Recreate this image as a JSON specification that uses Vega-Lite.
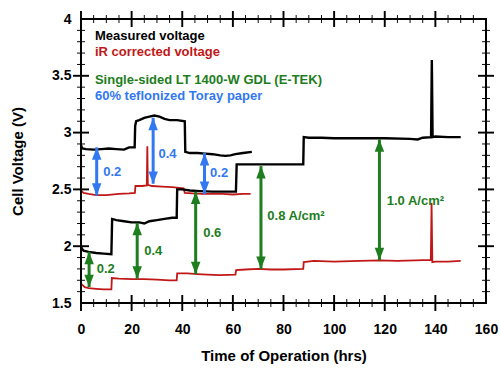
{
  "$schema": "https://vega.github.io/schema/vega-lite/v6.json",
  "width": 405,
  "height": 284,
  "autosize": "none",
  "padding": {"left": 81, "top": 19, "right": 14, "bottom": 65},
  "config": {
    "font": "Liberation Sans",
    "view": {"stroke": null},
    "axis": {"grid": false, "domain": false, "ticks": false, "labelColor": "black", "titleColor": "black"}
  },
  "datasets": {
    "ticks": [
      {"t": 0, "v": 1.5, "side": "bottom", "kind": "major"}, {"t": 5, "v": 1.5, "side": "bottom", "kind": "minor"}, {"t": 10, "v": 1.5, "side": "bottom", "kind": "minor"}, {"t": 15, "v": 1.5, "side": "bottom", "kind": "minor"},
      {"t": 20, "v": 1.5, "side": "bottom", "kind": "major"}, {"t": 25, "v": 1.5, "side": "bottom", "kind": "minor"}, {"t": 30, "v": 1.5, "side": "bottom", "kind": "minor"}, {"t": 35, "v": 1.5, "side": "bottom", "kind": "minor"},
      {"t": 40, "v": 1.5, "side": "bottom", "kind": "major"}, {"t": 45, "v": 1.5, "side": "bottom", "kind": "minor"}, {"t": 50, "v": 1.5, "side": "bottom", "kind": "minor"}, {"t": 55, "v": 1.5, "side": "bottom", "kind": "minor"},
      {"t": 60, "v": 1.5, "side": "bottom", "kind": "major"}, {"t": 65, "v": 1.5, "side": "bottom", "kind": "minor"}, {"t": 70, "v": 1.5, "side": "bottom", "kind": "minor"}, {"t": 75, "v": 1.5, "side": "bottom", "kind": "minor"},
      {"t": 80, "v": 1.5, "side": "bottom", "kind": "major"}, {"t": 85, "v": 1.5, "side": "bottom", "kind": "minor"}, {"t": 90, "v": 1.5, "side": "bottom", "kind": "minor"}, {"t": 95, "v": 1.5, "side": "bottom", "kind": "minor"},
      {"t": 100, "v": 1.5, "side": "bottom", "kind": "major"}, {"t": 105, "v": 1.5, "side": "bottom", "kind": "minor"}, {"t": 110, "v": 1.5, "side": "bottom", "kind": "minor"}, {"t": 115, "v": 1.5, "side": "bottom", "kind": "minor"},
      {"t": 120, "v": 1.5, "side": "bottom", "kind": "major"}, {"t": 125, "v": 1.5, "side": "bottom", "kind": "minor"}, {"t": 130, "v": 1.5, "side": "bottom", "kind": "minor"}, {"t": 135, "v": 1.5, "side": "bottom", "kind": "minor"},
      {"t": 140, "v": 1.5, "side": "bottom", "kind": "major"}, {"t": 145, "v": 1.5, "side": "bottom", "kind": "minor"}, {"t": 150, "v": 1.5, "side": "bottom", "kind": "minor"}, {"t": 155, "v": 1.5, "side": "bottom", "kind": "minor"},
      {"t": 0, "v": 4, "side": "top", "kind": "major"}, {"t": 5, "v": 4, "side": "top", "kind": "minor"}, {"t": 10, "v": 4, "side": "top", "kind": "minor"}, {"t": 15, "v": 4, "side": "top", "kind": "minor"},
      {"t": 20, "v": 4, "side": "top", "kind": "major"}, {"t": 25, "v": 4, "side": "top", "kind": "minor"}, {"t": 30, "v": 4, "side": "top", "kind": "minor"}, {"t": 35, "v": 4, "side": "top", "kind": "minor"},
      {"t": 40, "v": 4, "side": "top", "kind": "major"}, {"t": 45, "v": 4, "side": "top", "kind": "minor"}, {"t": 50, "v": 4, "side": "top", "kind": "minor"}, {"t": 55, "v": 4, "side": "top", "kind": "minor"},
      {"t": 60, "v": 4, "side": "top", "kind": "major"}, {"t": 65, "v": 4, "side": "top", "kind": "minor"}, {"t": 70, "v": 4, "side": "top", "kind": "minor"}, {"t": 75, "v": 4, "side": "top", "kind": "minor"},
      {"t": 80, "v": 4, "side": "top", "kind": "major"}, {"t": 85, "v": 4, "side": "top", "kind": "minor"}, {"t": 90, "v": 4, "side": "top", "kind": "minor"}, {"t": 95, "v": 4, "side": "top", "kind": "minor"},
      {"t": 100, "v": 4, "side": "top", "kind": "major"}, {"t": 105, "v": 4, "side": "top", "kind": "minor"}, {"t": 110, "v": 4, "side": "top", "kind": "minor"}, {"t": 115, "v": 4, "side": "top", "kind": "minor"},
      {"t": 120, "v": 4, "side": "top", "kind": "major"}, {"t": 125, "v": 4, "side": "top", "kind": "minor"}, {"t": 130, "v": 4, "side": "top", "kind": "minor"}, {"t": 135, "v": 4, "side": "top", "kind": "minor"},
      {"t": 140, "v": 4, "side": "top", "kind": "major"}, {"t": 145, "v": 4, "side": "top", "kind": "minor"}, {"t": 150, "v": 4, "side": "top", "kind": "minor"}, {"t": 155, "v": 4, "side": "top", "kind": "minor"},
      {"t": 0, "v": 1.6, "side": "left", "kind": "minor"}, {"t": 0, "v": 1.7, "side": "left", "kind": "minor"}, {"t": 0, "v": 1.8, "side": "left", "kind": "minor"}, {"t": 0, "v": 1.9, "side": "left", "kind": "minor"},
      {"t": 0, "v": 2.0, "side": "left", "kind": "major"}, {"t": 0, "v": 2.1, "side": "left", "kind": "minor"}, {"t": 0, "v": 2.2, "side": "left", "kind": "minor"}, {"t": 0, "v": 2.3, "side": "left", "kind": "minor"}, {"t": 0, "v": 2.4, "side": "left", "kind": "minor"},
      {"t": 0, "v": 2.5, "side": "left", "kind": "major"}, {"t": 0, "v": 2.6, "side": "left", "kind": "minor"}, {"t": 0, "v": 2.7, "side": "left", "kind": "minor"}, {"t": 0, "v": 2.8, "side": "left", "kind": "minor"}, {"t": 0, "v": 2.9, "side": "left", "kind": "minor"},
      {"t": 0, "v": 3.0, "side": "left", "kind": "major"}, {"t": 0, "v": 3.1, "side": "left", "kind": "minor"}, {"t": 0, "v": 3.2, "side": "left", "kind": "minor"}, {"t": 0, "v": 3.3, "side": "left", "kind": "minor"}, {"t": 0, "v": 3.4, "side": "left", "kind": "minor"},
      {"t": 0, "v": 3.5, "side": "left", "kind": "major"}, {"t": 0, "v": 3.6, "side": "left", "kind": "minor"}, {"t": 0, "v": 3.7, "side": "left", "kind": "minor"}, {"t": 0, "v": 3.8, "side": "left", "kind": "minor"}, {"t": 0, "v": 3.9, "side": "left", "kind": "minor"},
      {"t": 160, "v": 1.6, "side": "right", "kind": "minor"}, {"t": 160, "v": 1.7, "side": "right", "kind": "minor"}, {"t": 160, "v": 1.8, "side": "right", "kind": "minor"}, {"t": 160, "v": 1.9, "side": "right", "kind": "minor"},
      {"t": 160, "v": 2.0, "side": "right", "kind": "major"}, {"t": 160, "v": 2.1, "side": "right", "kind": "minor"}, {"t": 160, "v": 2.2, "side": "right", "kind": "minor"}, {"t": 160, "v": 2.3, "side": "right", "kind": "minor"}, {"t": 160, "v": 2.4, "side": "right", "kind": "minor"},
      {"t": 160, "v": 2.5, "side": "right", "kind": "major"}, {"t": 160, "v": 2.6, "side": "right", "kind": "minor"}, {"t": 160, "v": 2.7, "side": "right", "kind": "minor"}, {"t": 160, "v": 2.8, "side": "right", "kind": "minor"}, {"t": 160, "v": 2.9, "side": "right", "kind": "minor"},
      {"t": 160, "v": 3.0, "side": "right", "kind": "major"}, {"t": 160, "v": 3.1, "side": "right", "kind": "minor"}, {"t": 160, "v": 3.2, "side": "right", "kind": "minor"}, {"t": 160, "v": 3.3, "side": "right", "kind": "minor"}, {"t": 160, "v": 3.4, "side": "right", "kind": "minor"},
      {"t": 160, "v": 3.5, "side": "right", "kind": "major"}, {"t": 160, "v": 3.6, "side": "right", "kind": "minor"}, {"t": 160, "v": 3.7, "side": "right", "kind": "minor"}, {"t": 160, "v": 3.8, "side": "right", "kind": "minor"}, {"t": 160, "v": 3.9, "side": "right", "kind": "minor"}
    ],
    "frame": [
      {"t0": 0, "t1": 160, "v0": 1.5, "v1": 4}
    ],
    "lines": [
      {"run": "upper", "kind": "measured", "t": 0, "v": 2.89},
      {"run": "upper", "kind": "measured", "t": 0.5, "v": 2.86},
      {"run": "upper", "kind": "measured", "t": 2, "v": 2.855},
      {"run": "upper", "kind": "measured", "t": 5, "v": 2.85},
      {"run": "upper", "kind": "measured", "t": 8, "v": 2.855},
      {"run": "upper", "kind": "measured", "t": 11, "v": 2.86},
      {"run": "upper", "kind": "measured", "t": 14, "v": 2.855},
      {"run": "upper", "kind": "measured", "t": 17, "v": 2.85},
      {"run": "upper", "kind": "measured", "t": 19, "v": 2.87},
      {"run": "upper", "kind": "measured", "t": 21.2, "v": 2.87},
      {"run": "upper", "kind": "measured", "t": 21.4, "v": 3.06},
      {"run": "upper", "kind": "measured", "t": 21.8, "v": 3.1},
      {"run": "upper", "kind": "measured", "t": 23, "v": 3.11},
      {"run": "upper", "kind": "measured", "t": 25, "v": 3.13},
      {"run": "upper", "kind": "measured", "t": 27, "v": 3.14},
      {"run": "upper", "kind": "measured", "t": 29, "v": 3.15},
      {"run": "upper", "kind": "measured", "t": 31, "v": 3.14},
      {"run": "upper", "kind": "measured", "t": 33, "v": 3.12},
      {"run": "upper", "kind": "measured", "t": 35, "v": 3.11},
      {"run": "upper", "kind": "measured", "t": 38, "v": 3.11},
      {"run": "upper", "kind": "measured", "t": 41, "v": 3.1},
      {"run": "upper", "kind": "measured", "t": 41.2, "v": 2.83},
      {"run": "upper", "kind": "measured", "t": 43, "v": 2.82},
      {"run": "upper", "kind": "measured", "t": 46, "v": 2.82},
      {"run": "upper", "kind": "measured", "t": 49, "v": 2.815},
      {"run": "upper", "kind": "measured", "t": 52, "v": 2.81},
      {"run": "upper", "kind": "measured", "t": 55, "v": 2.8},
      {"run": "upper", "kind": "measured", "t": 57, "v": 2.795},
      {"run": "upper", "kind": "measured", "t": 59, "v": 2.8},
      {"run": "upper", "kind": "measured", "t": 61, "v": 2.81},
      {"run": "upper", "kind": "measured", "t": 64, "v": 2.82},
      {"run": "upper", "kind": "measured", "t": 67.5, "v": 2.83},
      {"run": "lower", "kind": "measured", "t": 0, "v": 2.0},
      {"run": "lower", "kind": "measured", "t": 0.3, "v": 1.98},
      {"run": "lower", "kind": "measured", "t": 1, "v": 1.96},
      {"run": "lower", "kind": "measured", "t": 3, "v": 1.95},
      {"run": "lower", "kind": "measured", "t": 6, "v": 1.94},
      {"run": "lower", "kind": "measured", "t": 9, "v": 1.935},
      {"run": "lower", "kind": "measured", "t": 12, "v": 1.93},
      {"run": "lower", "kind": "measured", "t": 12.3, "v": 2.24},
      {"run": "lower", "kind": "measured", "t": 14, "v": 2.23},
      {"run": "lower", "kind": "measured", "t": 17, "v": 2.22},
      {"run": "lower", "kind": "measured", "t": 20, "v": 2.21},
      {"run": "lower", "kind": "measured", "t": 23, "v": 2.21},
      {"run": "lower", "kind": "measured", "t": 25, "v": 2.2},
      {"run": "lower", "kind": "measured", "t": 27, "v": 2.22},
      {"run": "lower", "kind": "measured", "t": 30, "v": 2.23},
      {"run": "lower", "kind": "measured", "t": 33, "v": 2.24},
      {"run": "lower", "kind": "measured", "t": 36, "v": 2.25},
      {"run": "lower", "kind": "measured", "t": 37.8, "v": 2.25},
      {"run": "lower", "kind": "measured", "t": 38, "v": 2.5},
      {"run": "lower", "kind": "measured", "t": 40, "v": 2.5},
      {"run": "lower", "kind": "measured", "t": 43, "v": 2.49},
      {"run": "lower", "kind": "measured", "t": 47, "v": 2.485},
      {"run": "lower", "kind": "measured", "t": 52, "v": 2.48},
      {"run": "lower", "kind": "measured", "t": 56, "v": 2.48},
      {"run": "lower", "kind": "measured", "t": 61.2, "v": 2.48},
      {"run": "lower", "kind": "measured", "t": 61.5, "v": 2.72},
      {"run": "lower", "kind": "measured", "t": 65, "v": 2.72},
      {"run": "lower", "kind": "measured", "t": 70, "v": 2.72},
      {"run": "lower", "kind": "measured", "t": 75, "v": 2.72},
      {"run": "lower", "kind": "measured", "t": 80, "v": 2.72},
      {"run": "lower", "kind": "measured", "t": 87.8, "v": 2.72},
      {"run": "lower", "kind": "measured", "t": 88, "v": 2.96},
      {"run": "lower", "kind": "measured", "t": 90, "v": 2.955},
      {"run": "lower", "kind": "measured", "t": 95, "v": 2.955},
      {"run": "lower", "kind": "measured", "t": 100, "v": 2.95},
      {"run": "lower", "kind": "measured", "t": 110, "v": 2.95},
      {"run": "lower", "kind": "measured", "t": 120, "v": 2.95},
      {"run": "lower", "kind": "measured", "t": 130, "v": 2.945},
      {"run": "lower", "kind": "measured", "t": 133, "v": 2.94},
      {"run": "lower", "kind": "measured", "t": 135, "v": 2.955},
      {"run": "lower", "kind": "measured", "t": 138.3, "v": 2.96},
      {"run": "lower", "kind": "measured", "t": 138.6, "v": 3.64},
      {"run": "lower", "kind": "measured", "t": 138.9, "v": 2.96},
      {"run": "lower", "kind": "measured", "t": 140, "v": 2.965},
      {"run": "lower", "kind": "measured", "t": 145, "v": 2.96},
      {"run": "lower", "kind": "measured", "t": 150, "v": 2.96},
      {"run": "upper", "kind": "ir", "t": 0, "v": 2.49},
      {"run": "upper", "kind": "ir", "t": 1, "v": 2.47},
      {"run": "upper", "kind": "ir", "t": 3, "v": 2.46},
      {"run": "upper", "kind": "ir", "t": 6, "v": 2.45},
      {"run": "upper", "kind": "ir", "t": 10, "v": 2.45},
      {"run": "upper", "kind": "ir", "t": 15, "v": 2.46},
      {"run": "upper", "kind": "ir", "t": 19, "v": 2.465},
      {"run": "upper", "kind": "ir", "t": 21.3, "v": 2.47},
      {"run": "upper", "kind": "ir", "t": 21.5, "v": 2.53},
      {"run": "upper", "kind": "ir", "t": 24, "v": 2.53},
      {"run": "upper", "kind": "ir", "t": 26, "v": 2.535},
      {"run": "upper", "kind": "ir", "t": 26.2, "v": 2.88},
      {"run": "upper", "kind": "ir", "t": 26.4, "v": 2.54},
      {"run": "upper", "kind": "ir", "t": 28, "v": 2.53},
      {"run": "upper", "kind": "ir", "t": 32, "v": 2.525},
      {"run": "upper", "kind": "ir", "t": 36, "v": 2.52},
      {"run": "upper", "kind": "ir", "t": 40.5, "v": 2.51},
      {"run": "upper", "kind": "ir", "t": 41, "v": 2.47},
      {"run": "upper", "kind": "ir", "t": 44, "v": 2.465},
      {"run": "upper", "kind": "ir", "t": 48, "v": 2.46},
      {"run": "upper", "kind": "ir", "t": 52, "v": 2.46},
      {"run": "upper", "kind": "ir", "t": 56, "v": 2.46},
      {"run": "upper", "kind": "ir", "t": 60, "v": 2.455},
      {"run": "upper", "kind": "ir", "t": 64, "v": 2.46},
      {"run": "upper", "kind": "ir", "t": 67, "v": 2.46},
      {"run": "lower", "kind": "ir", "t": 0, "v": 1.67},
      {"run": "lower", "kind": "ir", "t": 0.5, "v": 1.66},
      {"run": "lower", "kind": "ir", "t": 1.5, "v": 1.64},
      {"run": "lower", "kind": "ir", "t": 3, "v": 1.63},
      {"run": "lower", "kind": "ir", "t": 6, "v": 1.625},
      {"run": "lower", "kind": "ir", "t": 9, "v": 1.62},
      {"run": "lower", "kind": "ir", "t": 12, "v": 1.62},
      {"run": "lower", "kind": "ir", "t": 12.2, "v": 1.72},
      {"run": "lower", "kind": "ir", "t": 15, "v": 1.715},
      {"run": "lower", "kind": "ir", "t": 20, "v": 1.71},
      {"run": "lower", "kind": "ir", "t": 25, "v": 1.71},
      {"run": "lower", "kind": "ir", "t": 30, "v": 1.705},
      {"run": "lower", "kind": "ir", "t": 35, "v": 1.7},
      {"run": "lower", "kind": "ir", "t": 37.8, "v": 1.7},
      {"run": "lower", "kind": "ir", "t": 38, "v": 1.76},
      {"run": "lower", "kind": "ir", "t": 42, "v": 1.76},
      {"run": "lower", "kind": "ir", "t": 46, "v": 1.755},
      {"run": "lower", "kind": "ir", "t": 50, "v": 1.75},
      {"run": "lower", "kind": "ir", "t": 55, "v": 1.745},
      {"run": "lower", "kind": "ir", "t": 61, "v": 1.75},
      {"run": "lower", "kind": "ir", "t": 61.3, "v": 1.79},
      {"run": "lower", "kind": "ir", "t": 65, "v": 1.795},
      {"run": "lower", "kind": "ir", "t": 70, "v": 1.8},
      {"run": "lower", "kind": "ir", "t": 75, "v": 1.795},
      {"run": "lower", "kind": "ir", "t": 80, "v": 1.795},
      {"run": "lower", "kind": "ir", "t": 87.8, "v": 1.8},
      {"run": "lower", "kind": "ir", "t": 88, "v": 1.86},
      {"run": "lower", "kind": "ir", "t": 92, "v": 1.87},
      {"run": "lower", "kind": "ir", "t": 100, "v": 1.865},
      {"run": "lower", "kind": "ir", "t": 110, "v": 1.87},
      {"run": "lower", "kind": "ir", "t": 118, "v": 1.875},
      {"run": "lower", "kind": "ir", "t": 125, "v": 1.87},
      {"run": "lower", "kind": "ir", "t": 132, "v": 1.875},
      {"run": "lower", "kind": "ir", "t": 138.2, "v": 1.88},
      {"run": "lower", "kind": "ir", "t": 138.5, "v": 2.38},
      {"run": "lower", "kind": "ir", "t": 138.8, "v": 1.86},
      {"run": "lower", "kind": "ir", "t": 140, "v": 1.865},
      {"run": "lower", "kind": "ir", "t": 145, "v": 1.865},
      {"run": "lower", "kind": "ir", "t": 150, "v": 1.87}
    ],
    "arrows": [
      {"x": 6.2, "lo": 2.445, "hi": 2.87, "group": "paper"},
      {"x": 28.5, "lo": 2.55, "hi": 3.13, "group": "paper"},
      {"x": 48.8, "lo": 2.46, "hi": 2.82, "group": "paper"},
      {"x": 3.2, "lo": 1.64, "hi": 1.95, "group": "cell"},
      {"x": 22.2, "lo": 1.715, "hi": 2.205, "group": "cell"},
      {"x": 45.3, "lo": 1.755, "hi": 2.48, "group": "cell"},
      {"x": 71.1, "lo": 1.8, "hi": 2.705, "group": "cell"},
      {"x": 117.9, "lo": 1.877, "hi": 2.94, "group": "cell"}
    ],
    "labels": [
      {"x": 8.8, "y": 2.655, "text": "0.2", "group": "paper"},
      {"x": 30.6, "y": 2.81, "text": "0.4", "group": "paper"},
      {"x": 51, "y": 2.64, "text": "0.2", "group": "paper"},
      {"x": 6.2, "y": 1.8, "text": "0.2", "group": "cell"},
      {"x": 25, "y": 1.96, "text": "0.4", "group": "cell"},
      {"x": 48.3, "y": 2.12, "text": "0.6", "group": "cell"},
      {"x": 73.6, "y": 2.27, "text": "0.8 A/cm²", "group": "cell"},
      {"x": 120.8, "y": 2.4, "text": "1.0 A/cm²", "group": "cell"},
      {"x": 5.5, "y": 3.846, "text": "Measured voltage", "group": "measured"},
      {"x": 5.5, "y": 3.71, "text": "iR corrected voltage", "group": "ir"},
      {"x": 5.5, "y": 3.46, "text": "Single-sided LT 1400-W GDL (E-TEK)", "group": "cell"},
      {"x": 5.5, "y": 3.32, "text": "60% teflonized Toray paper", "group": "paper"}
    ]
  },
  "resolve": {"axis": {"x": "independent", "y": "independent"}},
  "layer": [
    {
      "data": {"name": "lines"},
      "transform": [{"filter": "datum.kind === 'ir'"}],
      "mark": {"type": "line", "color": "#c01818", "strokeWidth": 1.8},
      "encoding": {
        "x": {"field": "t", "type": "quantitative", "scale": {"domain": [0, 160], "nice": false, "zero": false},
          "axis": {"orient": "bottom", "values": [0, 20, 40, 60, 80, 100, 120, 140, 160],
            "labelFontSize": 14, "labelFontWeight": "bold", "labelPadding": 19, "labelFlush": false,
            "title": "Time of Operation (hrs)", "titleFontSize": 15, "titleFontWeight": "bold", "titlePadding": 12}},
        "y": {"field": "v", "type": "quantitative", "scale": {"domain": [1.5, 4], "nice": false, "zero": false},
          "axis": {"orient": "left", "values": [1.5, 2, 2.5, 3, 3.5, 4],
            "labelExpr": "format(datum.value, '~g')",
            "labelFontSize": 14, "labelFontWeight": "bold", "labelPadding": 10, "labelFlush": false,
            "title": "Cell Voltage (V)", "titleFontSize": 15, "titleFontWeight": "bold", "titlePadding": 26}},
        "detail": {"field": "run"}
      }
    },
    {
      "data": {"name": "lines"},
      "transform": [{"filter": "datum.kind === 'measured'"}],
      "mark": {"type": "line", "color": "#000000", "strokeWidth": 2.4},
      "encoding": {
        "x": {"field": "t", "type": "quantitative", "axis": null},
        "y": {"field": "v", "type": "quantitative", "axis": null},
        "detail": {"field": "run"}
      }
    },
    {
      "data": {"name": "arrows"},
      "mark": {"type": "rule", "strokeWidth": 3},
      "encoding": {
        "x": {"field": "x", "type": "quantitative", "axis": null},
        "y": {"field": "lo", "type": "quantitative", "axis": null},
        "y2": {"field": "hi"},
        "color": {"field": "group", "type": "nominal", "scale": {"domain": ["measured", "ir", "cell", "paper"], "range": ["#000000", "#c01818", "#1e7d1e", "#3278f0"]}, "legend": null}
      }
    },
    {
      "data": {"name": "arrows"},
      "mark": {"type": "point", "filled": true, "opacity": 1, "size": 90, "strokeWidth": 0, "shape": "M0,0 L1,2.6 L-1,2.6 Z"},
      "encoding": {
        "x": {"field": "x", "type": "quantitative", "axis": null},
        "y": {"field": "hi", "type": "quantitative", "axis": null},
        "color": {"field": "group", "type": "nominal", "legend": null}
      }
    },
    {
      "data": {"name": "arrows"},
      "mark": {"type": "point", "filled": true, "opacity": 1, "size": 90, "strokeWidth": 0, "shape": "M0,0 L1,-2.6 L-1,-2.6 Z"},
      "encoding": {
        "x": {"field": "x", "type": "quantitative", "axis": null},
        "y": {"field": "lo", "type": "quantitative", "axis": null},
        "color": {"field": "group", "type": "nominal", "legend": null}
      }
    },
    {
      "data": {"name": "labels"},
      "mark": {"type": "text", "align": "left", "baseline": "middle", "fontWeight": "bold", "fontSize": 13},
      "encoding": {
        "x": {"field": "x", "type": "quantitative", "axis": null},
        "y": {"field": "y", "type": "quantitative", "axis": null},
        "text": {"field": "text"},
        "color": {"field": "group", "type": "nominal", "legend": null}
      }
    },
    {
      "data": {"name": "ticks"},
      "transform": [{"filter": "datum.side === 'bottom' || datum.side === 'top'"}],
      "mark": {"type": "point", "filled": true, "opacity": 1, "strokeWidth": 0, "color": "#000000", "shape": "M-0.12,-1 L0.12,-1 L0.12,1 L-0.12,1 Z"},
      "encoding": {
        "x": {"field": "t", "type": "quantitative", "axis": null},
        "y": {"field": "v", "type": "quantitative", "axis": null},
        "size": {"field": "kind", "type": "ordinal", "scale": {"domain": ["minor", "major"], "range": [64, 256]}, "legend": null}
      }
    },
    {
      "data": {"name": "ticks"},
      "transform": [{"filter": "datum.side === 'left' || datum.side === 'right'"}],
      "mark": {"type": "point", "filled": true, "opacity": 1, "strokeWidth": 0, "color": "#000000", "shape": "M-1,-0.12 L1,-0.12 L1,0.12 L-1,0.12 Z"},
      "encoding": {
        "x": {"field": "t", "type": "quantitative", "axis": null},
        "y": {"field": "v", "type": "quantitative", "axis": null},
        "size": {"field": "kind", "type": "ordinal", "scale": {"domain": ["minor", "major"], "range": [64, 256]}, "legend": null}
      }
    },
    {
      "data": {"name": "frame"},
      "mark": {"type": "rect", "filled": false, "stroke": "#000000", "strokeWidth": 2, "opacity": 1},
      "encoding": {
        "x": {"field": "t0", "type": "quantitative", "axis": null},
        "x2": {"field": "t1"},
        "y": {"field": "v0", "type": "quantitative", "axis": null},
        "y2": {"field": "v1"}
      }
    }
  ]
}
